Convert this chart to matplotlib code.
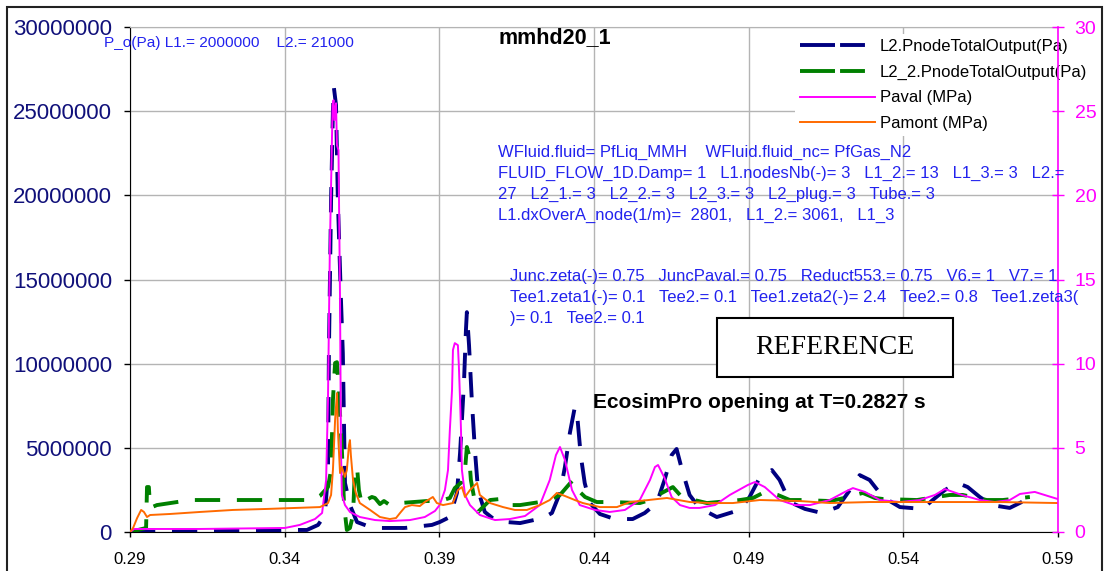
import matplotlib.pyplot as plt
from matplotlib.ticker import FuncFormatter
from matplotlib.lines import Line2D
from matplotlib.patches import Rectangle

plt.rcParams['font.family'] = ['Liberation Sans', 'DejaVu Sans']

# L2.PnodeTotalOutput (Pa)
t_l2 = [0.2900, 0.3126, 0.3401, 0.3472, 0.3508, 0.3530, 0.3540, 0.3543, 0.3550, 0.3556,
        0.3559, 0.3566, 0.3572, 0.3582, 0.3588, 0.3595, 0.3611, 0.3634, 0.3676, 0.3708,
        0.3789, 0.3876, 0.3901, 0.3934, 0.3957, 0.3967, 0.3973, 0.3980, 0.3986, 0.3989,
        0.3996, 0.4005, 0.4015, 0.4025, 0.4047, 0.4080, 0.4119, 0.4161, 0.4235, 0.4264,
        0.4290, 0.4306, 0.4322, 0.4338, 0.4347, 0.4357, 0.4370, 0.4387, 0.4419, 0.4467,
        0.4525, 0.4564, 0.4603, 0.4628, 0.4651, 0.4667, 0.4683, 0.4709, 0.4741, 0.4797,
        0.4871, 0.4903, 0.4935, 0.4975, 0.5000, 0.5033, 0.5082, 0.5136, 0.5188, 0.5227,
        0.5259, 0.5291, 0.5334, 0.5389, 0.5462, 0.5495, 0.5534, 0.5576, 0.5608, 0.5647,
        0.5686, 0.5744, 0.5809]
p_l2 = [0, 0.06e6, 0.12e6, 0.12e6, 0.42e6, 1.01e6, 3.50e6, 10.63e6, 19.7e6, 25.06e6,
        26.42e6, 25.36e6, 19.7e6, 13.78e6, 10.63e6, 2.91e6, 1.60e6, 0.59e6, 0.30e6, 0.24e6,
        0.24e6, 0.42e6, 0.59e6, 0.89e6, 2.32e6, 4.69e6, 6.65e6, 9.03e6, 12.0e6, 13.06e6,
        11.1e6, 7.84e6, 4.87e6, 2.49e6, 1.19e6, 0.71e6, 0.59e6, 0.53e6, 0.83e6, 1.13e6,
        2.32e6, 3.86e6, 5.88e6, 7.42e6, 6.65e6, 4.57e6, 2.91e6, 1.72e6, 1.07e6, 0.77e6,
        0.77e6, 1.13e6, 1.72e6, 3.09e6, 4.57e6, 4.93e6, 3.80e6, 2.20e6, 1.43e6, 0.89e6,
        1.31e6, 2.08e6, 3.21e6, 3.68e6, 3.09e6, 1.78e6, 1.37e6, 1.13e6, 1.48e6, 2.49e6,
        3.38e6, 3.09e6, 2.08e6, 1.48e6, 1.37e6, 1.90e6, 2.49e6, 2.91e6, 2.67e6, 2.08e6,
        1.60e6, 1.43e6, 2.02e6]

# L2_2.PnodeTotalOutput (Pa)
t_l2_2 = [0.2900, 0.2952, 0.2955, 0.2961, 0.2965, 0.2987, 0.3052, 0.3094, 0.3491, 0.3514,
          0.3540, 0.3550, 0.3556, 0.3563, 0.3569, 0.3575, 0.3585, 0.3592, 0.3601, 0.3611,
          0.3621, 0.3627, 0.3634, 0.3640, 0.3650, 0.3663, 0.3682, 0.3692, 0.3708, 0.3721,
          0.3740, 0.3773, 0.3860, 0.3902, 0.3934, 0.3950, 0.3973, 0.3983, 0.3989, 0.3996,
          0.4002, 0.4012, 0.4025, 0.4041, 0.4064, 0.4096, 0.4118, 0.4161, 0.4225, 0.4257,
          0.4290, 0.4312, 0.4332, 0.4348, 0.4371, 0.4409, 0.4458, 0.4548, 0.4581, 0.4613,
          0.4655, 0.4678, 0.4710, 0.4765, 0.4872, 0.4914, 0.4952, 0.4994, 0.5033, 0.5075,
          0.5162, 0.5195, 0.5269, 0.5308, 0.5334, 0.5444, 0.5486, 0.5550, 0.5592, 0.5670,
          0.5722, 0.5809]
p_l2_2 = [0, 0.24e6, 2.67e6, 2.67e6, 1.43e6, 1.60e6, 1.78e6, 1.90e6, 1.90e6, 2.14e6,
          2.67e6, 3.68e6, 7.84e6, 10.04e6, 10.09e6, 8.43e6, 4.87e6, 1.60e6, 0.12e6, 0.24e6,
          1.01e6, 3.68e6, 3.86e6, 2.49e6, 1.60e6, 1.90e6, 2.08e6, 2.02e6, 1.66e6, 1.84e6,
          1.60e6, 1.72e6, 1.84e6, 1.84e6, 2.02e6, 2.61e6, 2.97e6, 3.68e6, 5.05e6, 4.57e6,
          3.09e6, 2.08e6, 1.19e6, 1.48e6, 1.90e6, 1.96e6, 1.60e6, 1.60e6, 1.78e6, 1.90e6,
          2.20e6, 2.67e6, 3.09e6, 2.49e6, 2.08e6, 1.78e6, 1.78e6, 1.72e6, 1.90e6, 2.26e6,
          2.67e6, 2.20e6, 1.96e6, 1.72e6, 1.90e6, 2.02e6, 2.38e6, 2.20e6, 1.90e6, 1.90e6,
          1.84e6, 1.96e6, 2.32e6, 2.02e6, 1.96e6, 1.90e6, 2.02e6, 2.20e6, 2.20e6, 1.90e6,
          1.90e6, 2.08e6]

# Paval (MPa)
t_paval = [0.2900, 0.2913, 0.3126, 0.3401, 0.3449, 0.3498, 0.3521, 0.3534, 0.3540, 0.3546,
           0.3555, 0.3558, 0.3561, 0.3566, 0.3569, 0.3574, 0.3579, 0.3582, 0.3585, 0.3595,
           0.3611, 0.3643, 0.3692, 0.3740, 0.3805, 0.3853, 0.3886, 0.3901, 0.3918, 0.3928,
           0.3934, 0.3941, 0.3944, 0.3950, 0.3960, 0.3963, 0.3967, 0.3970, 0.3973, 0.3983,
           0.3999, 0.4031, 0.4080, 0.4128, 0.4177, 0.4225, 0.4257, 0.4277, 0.4290, 0.4306,
           0.4329, 0.4354, 0.4403, 0.4451, 0.4500, 0.4548, 0.4581, 0.4597, 0.4607, 0.4628,
           0.4651, 0.4678, 0.4709, 0.4741, 0.4791, 0.4839, 0.4897, 0.4920, 0.4952, 0.5000,
           0.5049, 0.5098, 0.5162, 0.5211, 0.5237, 0.5276, 0.5324, 0.5389, 0.5453, 0.5502,
           0.5534, 0.5589, 0.5647, 0.5696, 0.5744, 0.5777, 0.5825, 0.5867, 0.5899]
paval = [0, 0.18, 0.18, 0.24, 0.42, 0.77, 1.13, 3.09, 7.84, 16.75,
         25.36, 25.65, 24.47, 25.47, 22.98, 22.68, 13.78, 4.87, 2.20, 1.60,
         1.19, 0.89, 0.71, 0.65, 0.71, 0.89, 1.25, 1.60, 2.49, 3.68,
         6.06, 8.43, 10.81, 11.22, 11.10, 9.92, 7.84, 6.06, 3.68, 2.20,
         1.60, 1.01, 0.71, 0.77, 0.95, 1.60, 3.09, 4.57, 5.05, 4.28,
         2.49, 1.60, 1.31, 1.19, 1.31, 1.90, 3.09, 3.86, 3.98, 3.21,
         2.08, 1.60, 1.43, 1.43, 1.60, 2.20, 2.79, 2.97, 2.67, 1.90,
         1.60, 1.60, 1.90, 2.38, 2.61, 2.38, 1.90, 1.78, 1.90, 2.20,
         2.55, 2.20, 1.90, 1.78, 1.90, 2.26, 2.38, 2.14, 1.96]

# Pamont (MPa)
t_pamont = [0.2900, 0.2910, 0.2923, 0.2936, 0.2945, 0.2955, 0.2965, 0.3029, 0.3126, 0.3233,
            0.3343, 0.3514, 0.3540, 0.3550, 0.3556, 0.3563, 0.3569, 0.3572, 0.3579, 0.3585,
            0.3595, 0.3601, 0.3608, 0.3611, 0.3614, 0.3621, 0.3630, 0.3643, 0.3676, 0.3708,
            0.3740, 0.3760, 0.3773, 0.3789, 0.3811, 0.3837, 0.3853, 0.3879, 0.3892, 0.3912,
            0.3944, 0.3960, 0.3973, 0.3983, 0.3999, 0.4022, 0.4031, 0.4064, 0.4106, 0.4144,
            0.4183, 0.4225, 0.4257, 0.4280, 0.4306, 0.4338, 0.4364, 0.4419, 0.4474, 0.4516,
            0.4636, 0.4710, 0.4775, 0.4849, 0.4936, 0.5065, 0.5162, 0.5292, 0.5550, 0.5712,
            0.5900]
pamont = [0, 0.24, 0.83, 1.31, 1.19, 0.89, 1.01, 1.07, 1.19, 1.31,
          1.37, 1.48, 1.72, 2.20, 3.68, 6.65, 8.25, 6.06, 3.50, 3.86,
          3.27, 3.68, 5.17, 5.46, 4.57, 3.09, 2.32, 1.72, 1.31, 0.89,
          0.77, 0.83, 1.13, 1.48, 1.60, 1.54, 1.78, 2.08, 1.72, 1.60,
          1.72, 2.49, 2.67, 2.08, 2.49, 2.91, 2.20, 1.72, 1.48, 1.31,
          1.31, 1.60, 1.90, 2.32, 2.14, 1.90, 1.72, 1.48, 1.48, 1.78,
          2.02, 1.78, 1.72, 1.72, 1.90, 1.84, 1.72, 1.78, 1.78, 1.78,
          1.72]

x_ticks = [0.29, 0.34, 0.39, 0.44, 0.49, 0.54, 0.59]
y_ticks = [0, 5e6, 10e6, 15e6, 20e6, 25e6, 30e6]
y2_ticks = [0, 5, 10, 15, 20, 25, 30]

legend_labels = ['L2.PnodeTotalOutput(Pa)', 'L2_2.PnodeTotalOutput(Pa)',
                 'Paval (MPa)', 'Pamont (MPa)']

info_top = 'P_o(Pa) L1.= 2000000    L2.= 21000'
info_fluid = ['WFluid.fluid= PfLiq_MMH    WFluid.fluid_nc= PfGas_N2',
              'FLUID_FLOW_1D.Damp= 1   L1.nodesNb(-)= 3   L1_2.= 13   L1_3.= 3   L2.=',
              '27   L2_1.= 3   L2_2.= 3   L2_3.= 3   L2_plug.= 3   Tube.= 3',
              'L1.dxOverA_node(1/m)=  2801,   L1_2.= 3061,   L1_3']
info_junc = ['Junc.zeta(-)= 0.75   JuncPaval.= 0.75   Reduct553.= 0.75   V6.= 1   V7.= 1',
             'Tee1.zeta1(-)= 0.1   Tee2.= 0.1   Tee1.zeta2(-)= 2.4   Tee2.= 0.8   Tee1.zeta3(',
             ')= 0.1   Tee2.= 0.1']

NAVY = '#000080'
GREEN = '#008000'
PINK = '#ff00ff'
ORANGE = '#ff6a00'
BLUE = '#2222ee'
GRID = '#b4b4b4'

W, H = 1104, 571
fig = plt.figure(figsize=(W / 100, H / 100), dpi=100)
ax = fig.add_axes([130 / W, 1 - 532 / H, 928 / W, 505 / H])
ax2 = ax.twinx()

ax.plot(t_l2, p_l2, color=NAVY, lw=2.8, dashes=(6.5, 4.3), dash_capstyle='butt')
ax.plot(t_l2_2, p_l2_2, color=GREEN, lw=2.8, dashes=(6.5, 4.3), dash_capstyle='butt')
ax2.plot(t_paval, paval, color=PINK, lw=1.4)
ax2.plot(t_pamont, pamont, color=ORANGE, lw=1.4)

ax.set_xlim(0.29, 0.59)
ax.set_ylim(0, 30e6)
ax2.set_ylim(0, 30)
ax.set_xticks(x_ticks)
ax.set_yticks(y_ticks)
ax2.set_yticks(y2_ticks)
ax.xaxis.set_major_formatter(FuncFormatter(lambda v, p: '%.2f' % v))
ax.yaxis.set_major_formatter(FuncFormatter(lambda v, p: '%d' % v))

ax.grid(True, color=GRID, lw=1)
ax.tick_params(axis='y', direction='out', length=4.5, width=1, color='black',
               labelcolor='#10107a', labelsize=16, pad=8.5)
ax.tick_params(axis='x', direction='out', length=3.6, width=1, color='black',
               labelsize=12, pad=10.5)
ax2.tick_params(axis='y', direction='inout', length=8, width=1, color=PINK,
                labelcolor=PINK, labelsize=14, pad=8)

ax.spines['right'].set_visible(False)
ax.spines['top'].set_color(GRID)
for s in ['left', 'top', 'bottom']:
    ax2.spines[s].set_visible(False)
ax2.spines['right'].set_color(PINK)
ax2.spines['right'].set_linewidth(1.2)

# legend handles (dash pattern shown shorter in the key)
handles = [Line2D([], [], color=NAVY, lw=2.8, dashes=(9, 1.3, 6.4, 5), dash_capstyle='butt'),
           Line2D([], [], color=GREEN, lw=2.8, dashes=(9, 1.3, 6.4, 5), dash_capstyle='butt'),
           Line2D([], [], color=PINK, lw=1.4),
           Line2D([], [], color=ORANGE, lw=1.4)]
leg = ax2.legend(handles, legend_labels, loc='upper left',
                 bbox_to_anchor=(795 / W, 1 - 34 / H), bbox_transform=fig.transFigure,
                 fontsize=12, frameon=True, facecolor='white', edgecolor='none',
                 framealpha=1, fancybox=False, borderpad=0.3, borderaxespad=0,
                 handlelength=4.5, handletextpad=0.3, labelspacing=0.64)
leg.set_zorder(1.2)

# figure frame
fig.patches.append(Rectangle((7 / W, -0.02), 1095 / W, 1 - 7 / H + 0.02,
                             transform=fig.transFigure, fill=False,
                             edgecolor='#222222', lw=1.5))

fig.text(104 / W, 1 - 43 / H, info_top, color=BLUE, fontsize=11.1, va='center')
fig.text(498 / W, 1 - 38 / H, 'mmhd20_1', fontsize=15.5, fontweight='bold', va='center')
for i, line in enumerate(info_fluid):
    fig.text(498 / W, 1 - (152 + 21.3 * i) / H, line, color=BLUE, fontsize=12, va='center')
for i, line in enumerate(info_junc):
    fig.text(510 / W, 1 - (276 + 21.5 * i) / H, line, color=BLUE, fontsize=12, va='center')

fig.patches.append(Rectangle((717 / W, 1 - 377 / H), 236 / W, 59 / H,
                             transform=fig.transFigure, facecolor='white',
                             edgecolor='black', lw=1.5, zorder=3))
fig.text(835 / W, 1 - 347 / H, 'REFERENCE', family=['Liberation Serif'], fontsize=20,
         ha='center', va='center', zorder=4)
fig.text(593 / W, 1 - 403 / H, 'EcosimPro opening at T=0.2827 s', fontsize=15,
         fontweight='bold', va='center')

fig.savefig('out.png', dpi=100)
